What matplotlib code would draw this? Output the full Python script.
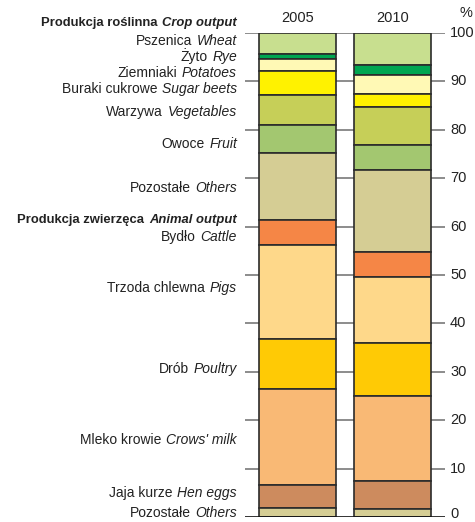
import matplotlib
matplotlib.use("Agg")
import matplotlib.pyplot as plt
from matplotlib import font_manager as fm
import matplotlib.transforms as mtransforms

# ---------------- data ----------------
years = ["2005", "2010"]
categories_pl = ["Pszenica", "Żyto", "Ziemniaki", "Buraki cukrowe", "Warzywa", "Owoce", "Pozostałe",
                 "Bydło", "Trzoda chlewna", "Drób", "Mleko krowie", "Jaja kurze", "Pozostałe"]
categories_en = ["Wheat", "Rye", "Potatoes", "Sugar beets", "Vegetables", "Fruit", "Others",
                 "Cattle", "Pigs", "Poultry", "Crows' milk", "Hen eggs", "Others"]
# shares (%) from top of bar to bottom
values_2005 = [4.3, 1.0, 2.6, 5.0, 6.2, 5.6, 13.9, 5.2, 19.4, 10.4, 19.7, 4.8, 1.9]
values_2010 = [6.7, 1.9, 3.9, 2.7, 7.9, 5.2, 16.9, 5.3, 13.5, 10.9, 17.7, 5.7, 1.7]
colors = ["#c8df8f", "#00a651", "#fff9b5", "#fff200", "#c6cf58", "#a3c770", "#d5cd94",
          "#f58646", "#fed88a", "#ffca05", "#f9b975", "#cd8b5e", "#d5cd94"]
group_titles = [("Produkcja roślinna", "Crop output"), ("Produkcja zwierzęca", "Animal output")]
yticks = [0, 10, 20, 30, 40, 50, 60, 70, 80, 90, 100]

# layout: label vertical positions (in % units of the axis)
label_y = [98.3, 95.0, 91.7, 88.4, 83.7, 77.1, 68.0, 57.9, 47.3, 30.6, 15.9, 5.0, 0.8]
title_y = [102.1, 61.4]

# ---------------- fonts ----------------
avail = {f.name for f in fm.fontManager.ttflist}
FAM = ["Liberation Sans Narrow", "Liberation Sans", "DejaVu Sans"]
FAM = [f for f in FAM if f in avail] or ["DejaVu Sans"]
plt.rcParams["font.family"] = FAM

fig = plt.figure(figsize=(4.75, 5.22), dpi=100)
ax = fig.add_axes([245 / 475, 5 / 522, 200 / 475, 484 / 522])
ax.set_xlim(-0.5526, 1.5526)
ax.set_ylim(0, 100)
for s in ax.spines.values():
    s.set_visible(False)
ax.set_xticks([])
ax.set_yticks([])

# gridlines
for t in yticks[1:]:
    ax.axhline(t, color="#6e6e6e", lw=1.1, zorder=0)
ax.axhline(0, color="#111111", lw=1.2, zorder=5)

# bars (stacked top-down)
bar_w = 0.81
for xi, vals in enumerate([values_2005, values_2010]):
    cur = sum(vals)
    for v, c in zip(vals, colors):
        ax.bar(xi, v, bottom=cur - v, width=bar_w, color=c, edgecolor="#2b2b2b",
               linewidth=1.2, zorder=2)
        cur -= v
    ax.text(xi, 103.0, years[xi], ha="center", va="center", fontsize=10.5, color="#222222")

# right tick labels
tr_r = mtransforms.blended_transform_factory(ax.transAxes, ax.transData)
for t in yticks:
    ax.text(1.025, max(t, 0.7), str(t), transform=tr_r, ha="left", va="center", fontsize=10.5,
            color="#222222", clip_on=False)
ax.text(1.075, 104.2, "%", transform=tr_r, ha="left", va="center", fontsize=10.5,
        color="#222222", clip_on=False)

# left labels: Polish regular + English italic
XL = -0.04


def two_part(y, pl, en, bold=False):
    w = "bold" if bold else "normal"
    fs = 9.4 if bold else 10
    t_en = ax.text(XL, y, en, transform=tr_r, ha="right", va="center", fontsize=fs,
                   style="italic", weight=w, color="#222222", clip_on=False)
    ax.annotate(pl, xy=(0, 0), xycoords=t_en, xytext=(-3.5, 0), textcoords="offset points",
                ha="right", va="bottom", fontsize=fs, weight=w, color="#222222",
                annotation_clip=False)


for (pl, en), y in zip(group_titles, title_y):
    two_part(y, pl, en, bold=True)
for pl, en, y in zip(categories_pl, categories_en, label_y):
    two_part(y, pl, en)

fig.savefig("out.png", dpi=100)
